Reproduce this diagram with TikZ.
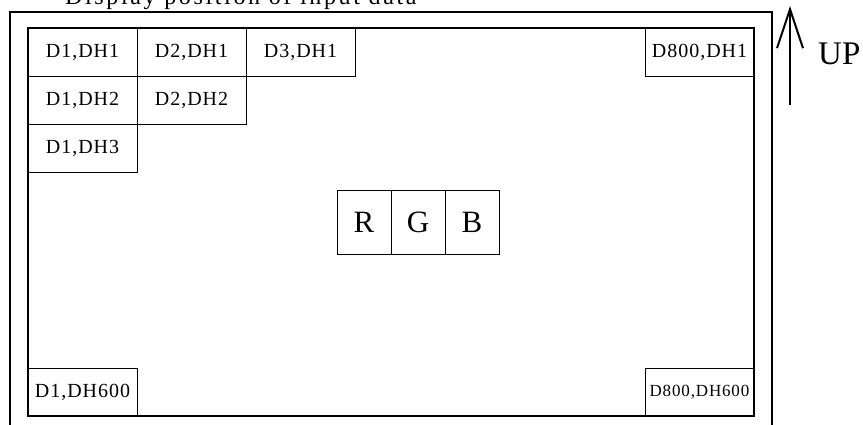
\documentclass[tikz,border=0pt]{standalone}
\usepackage{fontspec}
\setmainfont{Liberation Serif}
\usetikzlibrary{arrows.meta,positioning}

\begin{document}
\begin{tikzpicture}[x=1pt, y=-1pt,
  cellbox/.style={draw, line width=1pt, minimum width=109pt, minimum height=48pt,
    inner sep=0pt, outer sep=0pt,
    font=\fontsize{20}{20}\selectfont\addfontfeatures{LetterSpace=5}},
  colorbox/.style={draw, line width=1pt, minimum width=54pt, minimum height=64pt,
    inner sep=0pt, outer sep=0pt, font=\fontsize{31}{31}\selectfont}]
  % Fix the size of the picture
  \clip (0,0) rectangle (863,424);
  \useasboundingbox (0,0) rectangle (863,424);

  % Title, cut at the top edge
  \node[anchor=base west, inner sep=0pt,
    font=\fontsize{24}{24}\selectfont\addfontfeatures{LetterSpace=11}] (title) at (65,4)
    {Display position of input data};

  % Outer frame, open at the bottom
  \draw[line width=1.1pt] (10,430) -- (10,12) -- (772,12) -- (772,430);

  % Display panel
  \node[draw, line width=1.2pt, minimum width=726pt, minimum height=388pt,
    inner sep=0pt, outer sep=0pt] (panel) at (391,222) {};

  % Cells in the upper left corner
  \node[cellbox, anchor=north west] (d1dh1) at (panel.north west) {D1,DH1};
  \node[cellbox, right=0pt of d1dh1] (d2dh1) {D2,DH1};
  \node[cellbox, right=0pt of d2dh1] (d3dh1) {D3,DH1};
  \node[cellbox, below=0pt of d1dh1] (d1dh2) {D1,DH2};
  \node[cellbox, right=0pt of d1dh2] (d2dh2) {D2,DH2};
  \node[cellbox, below=0pt of d1dh2] (d1dh3) {D1,DH3};

  % Cells in the other corners
  \node[cellbox, anchor=north east] (d800dh1) at (panel.north east) {D800,DH1};
  \node[cellbox, anchor=south west] (d1dh600) at (panel.south west) {D1,DH600};
  \node[cellbox, anchor=south east,
    font=\fontsize{17}{17}\selectfont\addfontfeatures{LetterSpace=5}] (d800dh600)
    at (panel.south east) {D800,DH600};

  % One pixel: R, G and B
  \node[colorbox, xshift=27pt] (green) at (panel.center) {G};
  \node[colorbox, left=0pt of green] (red) {R};
  \node[colorbox, right=0pt of green] (blue) {B};

  % Up direction
  \coordinate (uptail) at (790,105);
  \coordinate (uptip) at (790,6);
  \draw[line width=2pt, -{Straight Barb[length=39pt, width=26pt]}] (uptail) -- (uptip);
  \node[anchor=west, inner sep=0pt, font=\fontsize{33}{33}\selectfont] (uplabel)
    at (818,53.5) {UP};
\end{tikzpicture}
\end{document}
